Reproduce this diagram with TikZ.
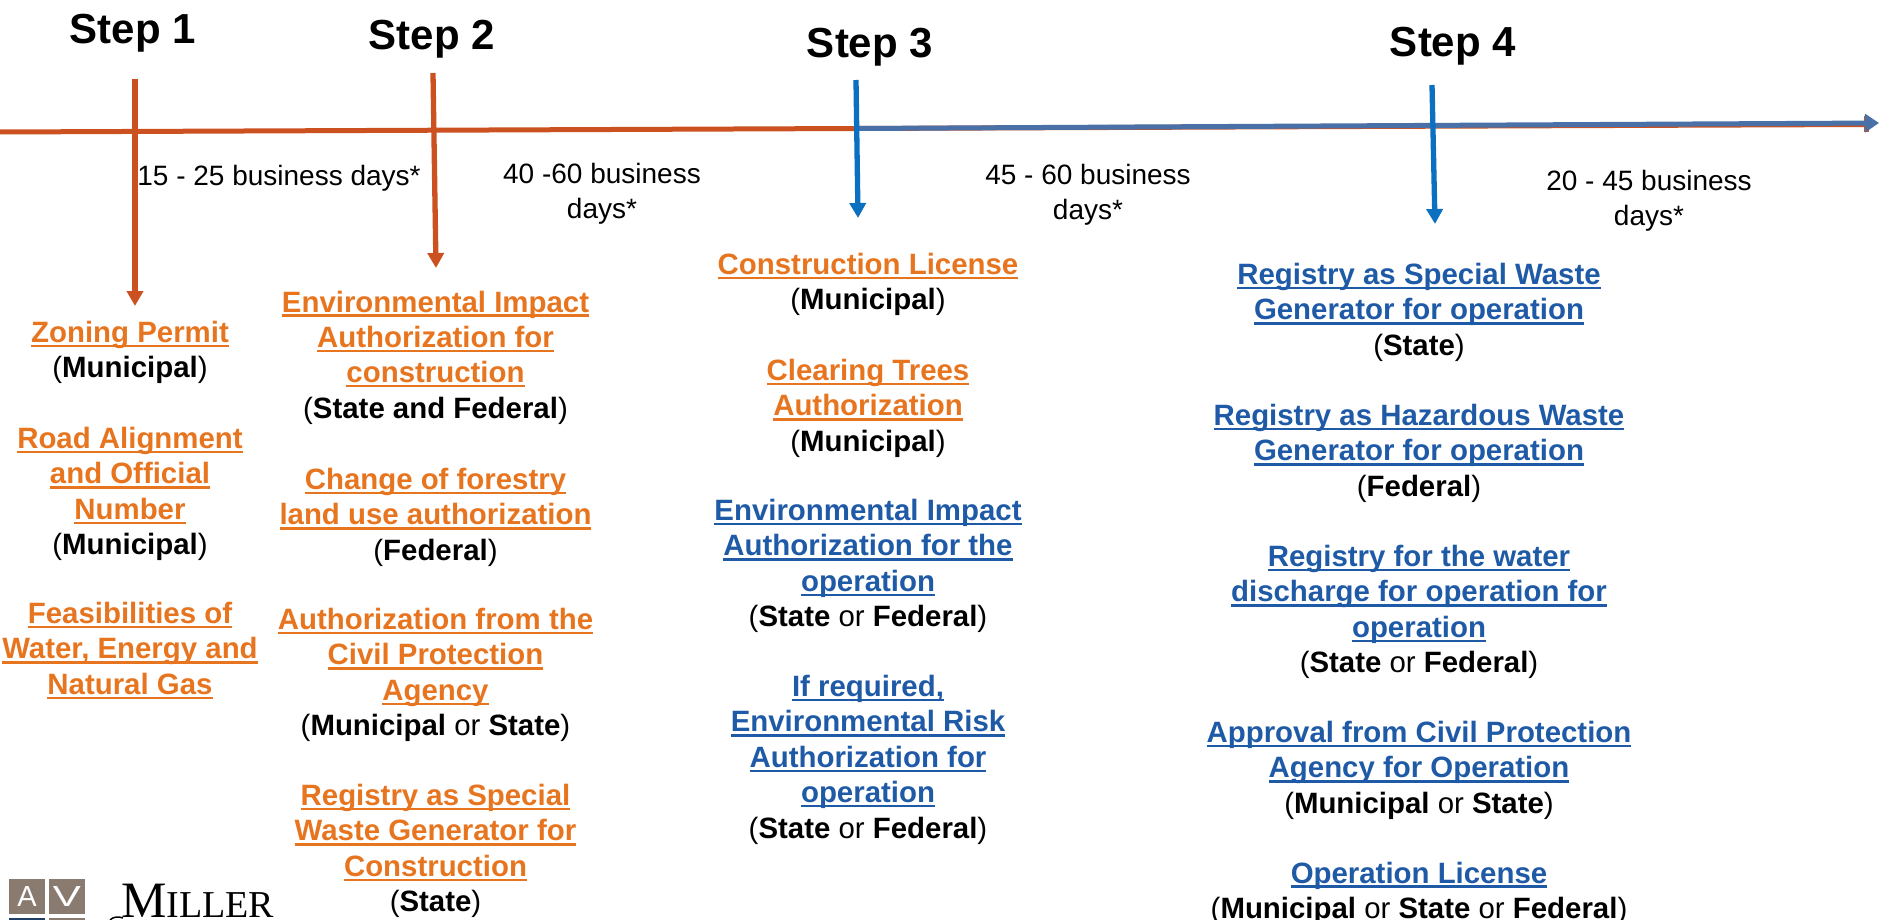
\documentclass[tikz,border=0pt]{standalone}
\usepackage{fontspec}
\setmainfont{Liberation Sans}
\newfontfamily\logoserif{Liberation Serif}
\usetikzlibrary{arrows.meta}
\definecolor{linered}{HTML}{CB5120}
\definecolor{lineblue}{HTML}{4A70A8}
\definecolor{arrowblue}{HTML}{0B70C0}
\definecolor{txtorange}{HTML}{E7751F}
\definecolor{txtblue}{HTML}{1F5AA6}
\definecolor{logotan}{HTML}{8A7B71}
\definecolor{logonavy}{HTML}{1F3F66}
\newcommand\ulx[1]{\leavevmode\setbox0=\hbox{#1}\rlap{\rule[-4.6pt]{\wd0}{2.3pt}}\box0}
\newcommand\obcol[1]{{\color{txtorange}\ulx{\textbf{#1}}}}
\newcommand\blcol[1]{{\color{txtblue}\ulx{\textbf{#1}}}}
\tikzset{
  x=1pt,y=-1pt,
  steplabel/.style={font=\fontsize{42}{48}\selectfont\bfseries,inner sep=0pt},
  block/.style={anchor=north,align=center,inner sep=0pt,
    font=\fontsize{29.4}{35.4}\selectfont,execute at begin node={\rule{0pt}{22pt}}},
  daystxt/.style={align=center,inner sep=0pt,font=\fontsize{28}{34.5}\selectfont},
  redarrow/.style={draw=linered,line width=5.3pt,-{Triangle[length=15pt,width=16pt]}},
  bluearrow/.style={draw=arrowblue,line width=5.3pt,-{Triangle[length=15pt,width=16pt]}},
  logosq/.style={fill=logotan,draw=none},
}
\begin{document}
\begin{tikzpicture}
\useasboundingbox (0,0) rectangle (1879,920);
\clip (0,0) rectangle (1879,920);
% coordinates
\coordinate (tlstart) at (0,132);
\coordinate (tlmid) at (856,128.5);
\coordinate (tlend) at (1879,123);
\coordinate (tlredend) at (1868,124.5);
\coordinate (a1s) at (135,79);
\coordinate (a1e) at (135,306);
\coordinate (a2s) at (433,73);
\coordinate (a2e) at (436,268);
\coordinate (a3s) at (856,80);
\coordinate (a3e) at (858,218);
\coordinate (a4s) at (1432,85);
\coordinate (a4e) at (1435,224);
% timeline
\draw[linered,line width=5pt] (tlstart) -- (tlmid) -- (tlredend);
\fill[linered] (1864,116) rectangle (1869,132);
\draw[lineblue,line width=5pt,-{Triangle[length=14pt,width=18pt]}] (tlmid) -- (tlend);
% vertical arrows
\draw[redarrow] (a1s) -- (a1e);
\draw[redarrow] (a2s) -- (a2e);
\draw[bluearrow] (a3s) -- (a3e);
\draw[bluearrow] (a4s) -- (a4e);
% step labels
\node[steplabel] (s1) at (133,33) {Step 1};
\node[steplabel] (s2) at (432,39) {Step 2};
\node[steplabel] (s3) at (870,47) {Step 3};
\node[steplabel] (s4) at (1453,46) {Step 4};
% durations
\node[daystxt] (d1) at (279,178) {15 - 25 business days*};
\node[daystxt] (d2) at (602,194) {40 -60 business\\days*};
\node[daystxt] (d3) at (1088,195) {45 - 60 business\\days*};
\node[daystxt] (d4) at (1649,201) {20 - 45 business\\days*};
% column 1
\node[block] (c1a) at (130,321) {\obcol{Zoning Permit}\\(\textbf{Municipal})};
\node[block] (c1b) at (130,427) {\obcol{Road Alignment}\\\obcol{and Official}\\\obcol{Number}\\(\textbf{Municipal})};
\node[block] (c1c) at (130,602) {\obcol{Feasibilities of}\\\obcol{Water, Energy and}\\\obcol{Natural Gas}};
% column 2
\node[block] (c2a) at (435.5,290.5) {\obcol{Environmental Impact}\\\obcol{Authorization for}\\\obcol{construction}\\(\textbf{State and Federal})};
\node[block] (c2b) at (435.5,468) {\obcol{Change of forestry}\\\obcol{land use authorization}\\(\textbf{Federal})};
\node[block] (c2c) at (435.5,608) {\obcol{Authorization from the}\\\obcol{Civil Protection}\\\obcol{Agency}\\(\textbf{Municipal} or \textbf{State})};
\node[block] (c2d) at (435.5,784) {\obcol{Registry as Special}\\\obcol{Waste Generator for}\\\obcol{Construction}\\(\textbf{State})};
% column 3
\node[block] (c3a) at (868,253) {\obcol{Construction License}\\(\textbf{Municipal})};
\node[block] (c3b) at (868,359) {\obcol{Clearing Trees}\\\obcol{Authorization}\\(\textbf{Municipal})};
\node[block] (c3c) at (868,499) {\blcol{Environmental Impact}\\\blcol{Authorization for the}\\\blcol{operation}\\(\textbf{State} or \textbf{Federal})};
\node[block] (c3d) at (868,675) {\blcol{If required,}\\\blcol{Environmental Risk}\\\blcol{Authorization for}\\\blcol{operation}\\(\textbf{State} or \textbf{Federal})};
% column 4
\node[block] (c4a) at (1419,263) {\blcol{Registry as Special Waste}\\\blcol{Generator for operation}\\(\textbf{State})};
\node[block] (c4b) at (1419,404) {\blcol{Registry as Hazardous Waste}\\\blcol{Generator for operation}\\(\textbf{Federal})};
\node[block] (c4c) at (1419,545) {\blcol{Registry for the water}\\\blcol{discharge for operation for}\\\blcol{operation}\\(\textbf{State} or \textbf{Federal})};
\node[block] (c4d) at (1419,721) {\blcol{Approval from Civil Protection}\\\blcol{Agency for Operation}\\(\textbf{Municipal} or \textbf{State})};
\node[block] (c4e) at (1419,861.5) {\blcol{Operation License}\\(\textbf{Municipal} or \textbf{State} or \textbf{Federal})};
% logo
\fill[logosq] (9,879) rectangle (45,914);
\fill[logosq] (49,879) rectangle (85,914);
\fill[logonavy] (9,918) rectangle (45,925);
\fill[logosq] (49,918) rectangle (85,925);
\node[text=white,inner sep=0pt,font=\fontsize{29}{29}\selectfont] (la) at (27,897) {A};
\node[text=white,inner sep=0pt,xscale=1.45,font=\fontsize{29}{29}\selectfont] (lv) at (67,897) {V};
\node[anchor=base west,inner sep=0pt,font=\logoserif\fontsize{51}{51}\selectfont] (lm) at (121,917) {M\fontsize{38}{38}\selectfont ILLER};
\draw[line width=1.5pt] (110,920) .. controls (113,917) and (118,916) .. (123,918);
\end{tikzpicture}
\end{document}
